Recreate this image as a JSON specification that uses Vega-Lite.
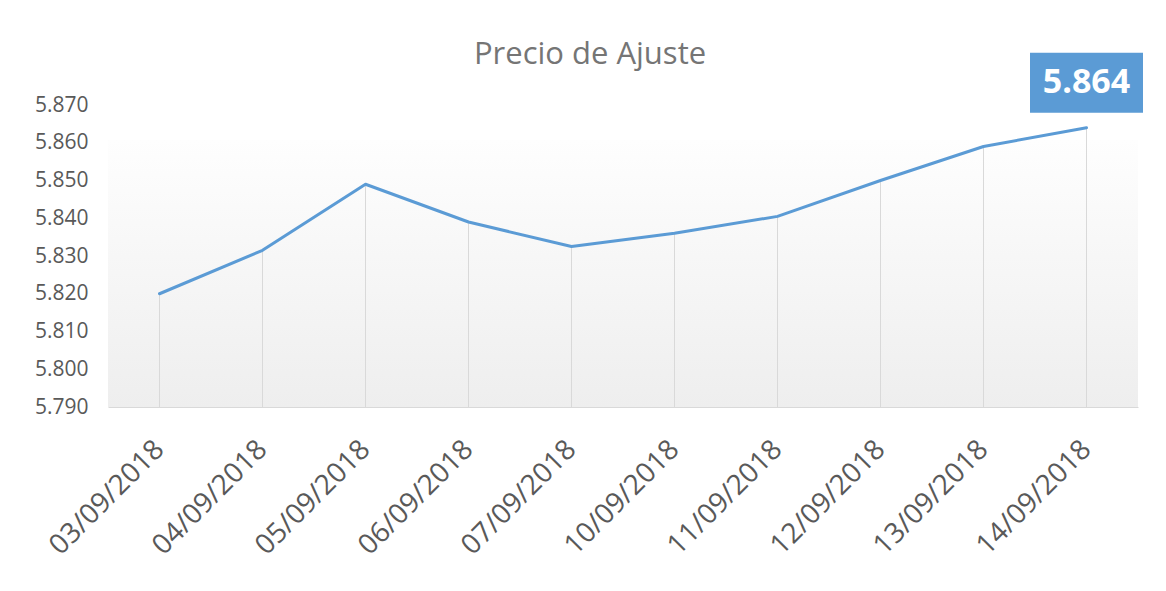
{
  "$schema": "https://vega.github.io/schema/vega-lite/v6.json",
  "width": 1030,
  "height": 302,
  "autosize": {"type": "none"},
  "padding": {"left": 108, "top": 105, "right": 28, "bottom": 184},
  "background": "white",
  "title": {
    "text": "Precio de Ajuste",
    "font": "Open Sans",
    "fontSize": 31,
    "fontWeight": "normal",
    "color": "#757575",
    "offset": -18,
    "dx": -33
  },
  "config": {
    "view": {"stroke": null},
    "font": "Open Sans"
  },
  "data": {
    "values": [
      {"fecha": "03/09/2018", "precio": 5.820},
      {"fecha": "04/09/2018", "precio": 5.8315},
      {"fecha": "05/09/2018", "precio": 5.849},
      {"fecha": "06/09/2018", "precio": 5.839},
      {"fecha": "07/09/2018", "precio": 5.8325},
      {"fecha": "10/09/2018", "precio": 5.836},
      {"fecha": "11/09/2018", "precio": 5.8405},
      {"fecha": "12/09/2018", "precio": 5.850},
      {"fecha": "13/09/2018", "precio": 5.859},
      {"fecha": "14/09/2018", "precio": 5.864}
    ]
  },
  "encoding": {
    "x": {
      "field": "fecha",
      "type": "ordinal",
      "sort": null,
      "scale": {"type": "point", "padding": 0.5},
      "axis": {
        "title": null,
        "labelAngle": -45,
        "labelAlign": "right",
        "labelBaseline": "middle",
        "labelFontSize": 28,
        "labelColor": "#595959",
        "labelFont": "Open Sans",
        "labelPadding": 38,
        "ticks": false,
        "domain": true,
        "domainColor": "#d9d9d9",
        "domainWidth": 1,
        "grid": false
      }
    },
    "y": {
      "field": "precio",
      "type": "quantitative",
      "scale": {"domain": [5.79, 5.87], "nice": false, "zero": false},
      "axis": {
        "title": null,
        "values": [5.79, 5.8, 5.81, 5.82, 5.83, 5.84, 5.85, 5.86, 5.87],
        "format": ".3f",
        "labelFontSize": 21,
        "labelColor": "#595959",
        "labelFont": "Open Sans",
        "labelPadding": 20,
        "ticks": false,
        "domain": false,
        "grid": false
      }
    }
  },
  "layer": [
    {
      "data": {"values": [{"top": 5.8607, "bottom": 5.79}]},
      "mark": {
        "type": "rect",
        "color": {
          "gradient": "linear",
          "x1": 0, "y1": 0, "x2": 0, "y2": 1,
          "stops": [
            {"offset": 0, "color": "#fefefe"},
            {"offset": 1, "color": "#eeeeee"}
          ]
        }
      },
      "encoding": {
        "x": {"value": 0},
        "x2": {"value": "width"},
        "y": {"field": "top", "type": "quantitative"},
        "y2": {"field": "bottom"}
      }
    },
    {
      "mark": {"type": "rule", "color": "#d9d9d9", "strokeWidth": 1},
      "encoding": {
        "y2": {"datum": 5.79}
      }
    },
    {
      "mark": {"type": "line", "color": "#5b9bd5", "strokeWidth": 3, "strokeCap": "round", "strokeJoin": "round"}
    },
    {
      "transform": [{"filter": "datum.fecha === '14/09/2018'"}],
      "mark": {
        "type": "point",
        "shape": "M-1,-0.531H1V0.531H-1Z",
        "size": 12769,
        "filled": true,
        "opacity": 1,
        "color": "#5b9bd5",
        "yOffset": -45
      }
    },
    {
      "transform": [{"filter": "datum.fecha === '14/09/2018'"}],
      "mark": {
        "type": "text",
        "color": "white",
        "font": "Open Sans",
        "fontSize": 34,
        "fontWeight": "bold",
        "yOffset": -45,
        "baseline": "middle",
        "align": "center"
      },
      "encoding": {
        "text": {"field": "precio", "type": "quantitative", "format": ".3f"}
      }
    }
  ]
}
